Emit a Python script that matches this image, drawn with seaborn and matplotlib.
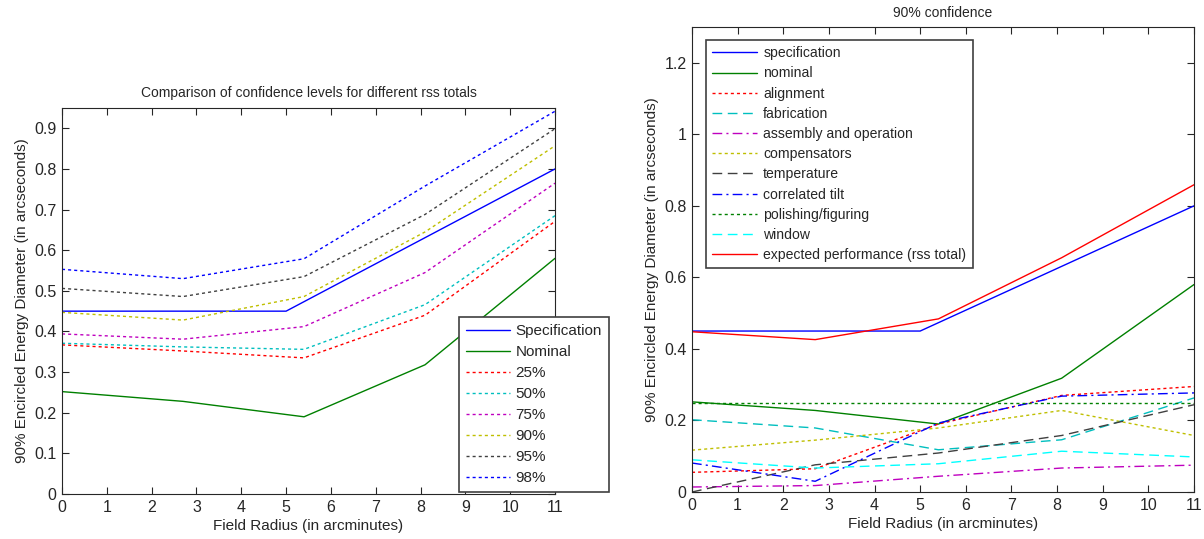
import matplotlib
matplotlib.use("Agg")
import matplotlib.pyplot as plt
import seaborn as sns
import pandas as pd

sns.set_style("ticks")
plt.rcParams['font.family'] = ['Liberation Sans', 'DejaVu Sans']

# ---------------- data ----------------
field_x = [0, 2.7, 5.4, 8.1, 11]
spec_x = [0, 5, 11]
spec_y = [0.45, 0.45, 0.80]
nominal = [0.252, 0.228, 0.19, 0.318, 0.58]

# left panel: confidence levels
conf_labels = ["25%", "50%", "75%", "90%", "95%", "98%"]
conf_25 = [0.367, 0.352, 0.335, 0.44, 0.671]
conf_50 = [0.371, 0.362, 0.356, 0.466, 0.685]
conf_75 = [0.394, 0.381, 0.412, 0.545, 0.765]
conf_90 = [0.447, 0.428, 0.486, 0.645, 0.857]
conf_95 = [0.506, 0.486, 0.535, 0.688, 0.899]
conf_98 = [0.553, 0.530, 0.579, 0.758, 0.942]

# right panel: error budget contributions (90% confidence)
alignment = [0.055, 0.065, 0.19, 0.27, 0.295]
fabrication = [0.202, 0.179, 0.118, 0.146, 0.263]
assembly = [0.014, 0.018, 0.044, 0.067, 0.075]
compensators = [0.117, 0.145, 0.179, 0.228, 0.158]
temperature = [0.0, 0.076, 0.109, 0.158, 0.244]
correlated_tilt = [0.081, 0.030, 0.193, 0.268, 0.277]
polishing = [0.25, 0.25, 0.25, 0.25, 0.25]
window = [0.090, 0.067, 0.079, 0.114, 0.098]
expected = [0.448, 0.426, 0.484, 0.655, 0.859]

# ---------------- styling ----------------
BLUE, GREEN, RED = '#0000FF', '#008000', '#FF0000'
CYAN, MAG, YEL, BLK = '#00BFBF', '#BF00BF', '#BFBF00', '#404040'
BCYAN = '#00FFFF'
DOT = (0, (2.2, 2.2))
DASH = (0, (7, 4))
DASHDOT = (0, (7, 3, 1.5, 3))

fig = plt.figure(figsize=(12.04, 5.39), dpi=100)
axL = fig.add_axes([62/1204, 45/539, 493/1204, 386/539])
axR = fig.add_axes([692/1204, 47/539, 502/1204, 465/539])


def line(ax, x, y, color, ls, label, lw=1.0):
    df = pd.DataFrame({"x": x, "y": y})
    sns.lineplot(data=df, x="x", y="y", ax=ax, color=color, linestyle=ls,
                 linewidth=lw, label=label, estimator=None, sort=False)


# left panel
line(axL, spec_x, spec_y, BLUE, '-', 'Specification')
line(axL, field_x, nominal, GREEN, '-', 'Nominal')
for vals, col, lab in zip([conf_25, conf_50, conf_75, conf_90, conf_95, conf_98],
                          [RED, CYAN, MAG, YEL, BLK, BLUE], conf_labels):
    line(axL, field_x, vals, col, DOT, lab)

axL.set_xlim(0, 11)
axL.set_ylim(0, 0.95)
axL.set_xticks(range(0, 12))
axL.set_yticks([i/10 for i in range(10)])
axL.set_yticklabels(['0'] + [f'0.{i}' for i in range(1, 10)])
axL.set_title('Comparison of confidence levels for different rss totals',
              fontsize=10, pad=8)
axL.set_xlabel('Field Radius (in arcminutes)', fontsize=11, labelpad=3)
axL.set_ylabel('90% Encircled Energy Diameter (in arcseconds)', fontsize=11, labelpad=4)
legL = axL.legend(loc='lower right', bbox_to_anchor=(609/1204, 47/539),
                  bbox_transform=fig.transFigure, fontsize=11, frameon=True,
                  fancybox=False, framealpha=1, edgecolor='#404040',
                  handlelength=2.9, handletextpad=0.35, labelspacing=0.46,
                  borderpad=0.45, borderaxespad=0)
legL.get_frame().set_linewidth(1.2)

# right panel
line(axR, spec_x, spec_y, BLUE, '-', 'specification')
line(axR, field_x, nominal, GREEN, '-', 'nominal')
line(axR, field_x, alignment, RED, DOT, 'alignment')
line(axR, field_x, fabrication, CYAN, DASH, 'fabrication')
line(axR, field_x, assembly, MAG, DASHDOT, 'assembly and operation')
line(axR, field_x, compensators, YEL, DOT, 'compensators')
line(axR, field_x, temperature, BLK, DASH, 'temperature')
line(axR, field_x, correlated_tilt, BLUE, DASHDOT, 'correlated tilt')
line(axR, field_x, polishing, GREEN, DOT, 'polishing/figuring')
line(axR, field_x, window, BCYAN, DASH, 'window')
line(axR, field_x, expected, RED, '-', 'expected performance (rss total)')

axR.set_xlim(0, 11)
axR.set_ylim(0, 1.3)
axR.set_xticks(range(0, 12))
axR.set_yticks([0, 0.2, 0.4, 0.6, 0.8, 1.0, 1.2])
axR.set_yticklabels(['0', '0.2', '0.4', '0.6', '0.8', '1', '1.2'])
axR.set_title('90% confidence', fontsize=10, pad=7)
axR.set_xlabel('Field Radius (in arcminutes)', fontsize=11, labelpad=3)
axR.set_ylabel('90% Encircled Energy Diameter (in arcseconds)', fontsize=11, labelpad=4)
legR = axR.legend(loc='upper left', bbox_to_anchor=(706/1204, 1 - 40/539),
                  bbox_transform=fig.transFigure, fontsize=10.1, frameon=True,
                  fancybox=False, framealpha=1, edgecolor='#404040',
                  handlelength=3.2, handletextpad=0.43, labelspacing=0.44,
                  borderpad=0.45, borderaxespad=0)
legR.get_frame().set_linewidth(1.2)

for ax in (axL, axR):
    ax.tick_params(direction='in', top=True, right=True, length=5,
                   labelsize=11.5, color='#262626', width=0.8, pad=4)
    for s in ax.spines.values():
        s.set_color('#262626')
        s.set_linewidth(0.8)

fig.savefig('out.png', dpi=100)
